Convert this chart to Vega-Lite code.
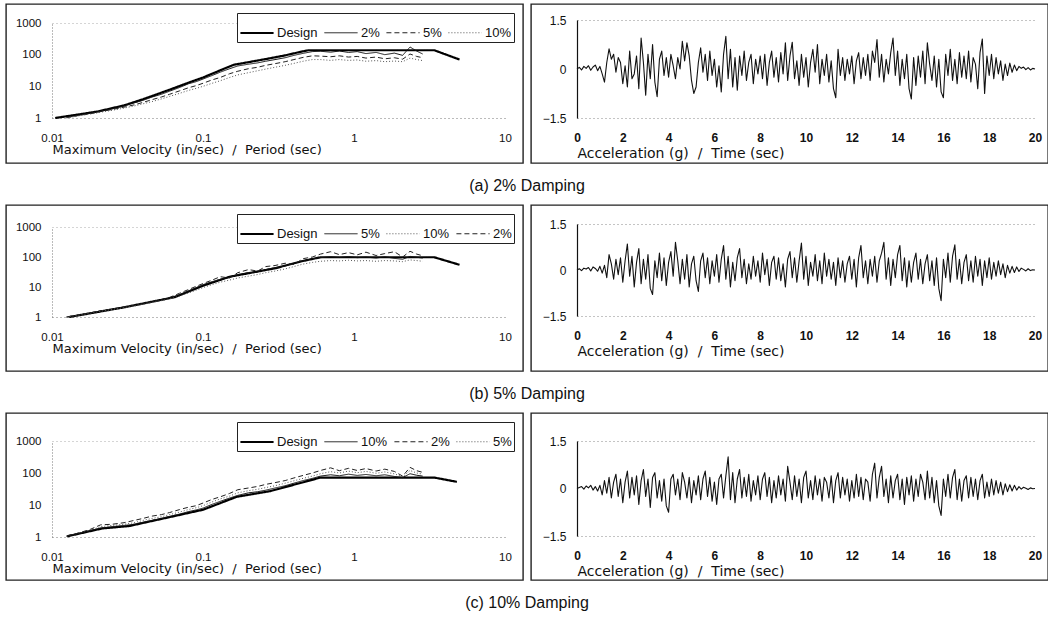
{
"$schema": "https://vega.github.io/schema/vega-lite/v6.json",
"padding": {"left": 5, "top": 3, "right": 0, "bottom": 0},
"background": "white",
"config": {
 "view": {"stroke": "#222", "strokeWidth": 1.4},
 "axis": {"labelFont": "Liberation Sans", "titleFont": "DejaVu Sans", "labelColor": "#111", "titleColor": "#111", "titleFontWeight": "normal", "titleFontSize": 13, "labelFontSize": 11.5, "labelOverlap": false, "labelBound": false},
 "legend": {"orient": "top-right", "offset": 9, "direction": "horizontal", "columns": 4, "strokeColor": "#222", "fillColor": "#fff", "padding": 2, "symbolType": "stroke", "symbolSize": 1100, "labelFont": "Liberation Sans", "labelFontSize": 13, "labelColor": "#111", "columnPadding": 5, "labelOffset": 2, "labelLimit": 0},
 "title": {"font": "Liberation Sans", "fontSize": 16, "fontWeight": "normal", "color": "#111", "orient": "bottom", "anchor": "middle", "offset": 14},
 "line": {"strokeJoin": "round"}
},
"datasets": {
 "s1": [
  {"T":0.0105,"Design":1},{"T":0.02,"Design":1.6},{"T":0.03,"Design":2.5},{"T":0.04,"Design":3.9},{"T":0.06,"Design":7.8},{"T":0.08,"Design":13},{"T":0.1,"Design":19},{"T":0.13,"Design":32},{"T":0.16,"Design":48},{"T":0.2,"Design":58},{"T":0.27,"Design":75},{"T":0.35,"Design":95},{"T":0.45,"Design":125},{"T":0.5,"Design":138},{"T":3.4,"Design":138},{"T":5,"Design":70},
  {"T":0.0125,"2%":1.05,"5%":1.03,"10%":1.0},
  {"T":0.015,"2%":1.22,"5%":1.2,"10%":1.17},
  {"T":0.018,"2%":1.42,"5%":1.38,"10%":1.33},
  {"T":0.021,"2%":1.65,"5%":1.6,"10%":1.52},
  {"T":0.025,"2%":1.95,"5%":1.85,"10%":1.75},
  {"T":0.03,"2%":2.4,"5%":2.2,"10%":2.05},
  {"T":0.035,"2%":3.0,"5%":2.6,"10%":2.4},
  {"T":0.04,"2%":3.6,"5%":3.1,"10%":2.8},
  {"T":0.046,"2%":4.6,"5%":3.8,"10%":3.3},
  {"T":0.053,"2%":5.6,"5%":4.6,"10%":4.0},
  {"T":0.06,"2%":7.0,"5%":5.6,"10%":4.8},
  {"T":0.07,"2%":9.2,"5%":7.2,"10%":6.0},
  {"T":0.08,"2%":12,"5%":9.0,"10%":7.4},
  {"T":0.09,"2%":14,"5%":10.5,"10%":8.6},
  {"T":0.1,"2%":17,"5%":12.5,"10%":10},
  {"T":0.115,"2%":22,"5%":16,"10%":12.5},
  {"T":0.13,"2%":28,"5%":19,"10%":15},
  {"T":0.15,"2%":36,"5%":25,"10%":19},
  {"T":0.17,"2%":44,"5%":30,"10%":23},
  {"T":0.2,"2%":50,"5%":36,"10%":27},
  {"T":0.23,"2%":55,"5%":40,"10%":31},
  {"T":0.26,"2%":62,"5%":46,"10%":35},
  {"T":0.3,"2%":70,"5%":52,"10%":40},
  {"T":0.35,"2%":80,"5%":60,"10%":46},
  {"T":0.4,"2%":95,"5%":70,"10%":53},
  {"T":0.46,"2%":110,"5%":82,"10%":62},
  {"T":0.53,"2%":125,"5%":92,"10%":70},
  {"T":0.6,"2%":128,"5%":90,"10%":70},
  {"T":0.7,"2%":120,"5%":86,"10%":66},
  {"T":0.8,"2%":130,"5%":92,"10%":70},
  {"T":0.92,"2%":118,"5%":84,"10%":66},
  {"T":1.05,"2%":125,"5%":88,"10%":68},
  {"T":1.2,"2%":108,"5%":78,"10%":62},
  {"T":1.4,"2%":118,"5%":84,"10%":65},
  {"T":1.6,"2%":100,"5%":74,"10%":60},
  {"T":1.85,"2%":112,"5%":80,"10%":63},
  {"T":2.1,"2%":95,"5%":72,"10%":60},
  {"T":2.35,"2%":175,"5%":105,"10%":78},
  {"T":2.6,"2%":130,"5%":88,"10%":70},
  {"T":2.85,"2%":105,"5%":80,"10%":65}
 ],
 "s2": [
  {"T":0.013,"Design":1},{"T":0.03,"Design":2.1},{"T":0.065,"Design":4.6},{"T":0.1,"Design":11},{"T":0.15,"Design":22},{"T":0.3,"Design":42},{"T":0.45,"Design":72},{"T":0.6,"Design":98},{"T":3.4,"Design":98},{"T":5,"Design":55},
  {"T":0.0125,"5%":1.0,"10%":1.0,"2%":1.0},
  {"T":0.015,"5%":1.15,"10%":1.14,"2%":1.16},
  {"T":0.018,"5%":1.36,"10%":1.34,"2%":1.38},
  {"T":0.021,"5%":1.58,"10%":1.55,"2%":1.6},
  {"T":0.025,"5%":1.82,"10%":1.78,"2%":1.85},
  {"T":0.03,"5%":2.1,"10%":2.05,"2%":2.15},
  {"T":0.035,"5%":2.4,"10%":2.33,"2%":2.45},
  {"T":0.04,"5%":2.75,"10%":2.65,"2%":2.8},
  {"T":0.046,"5%":3.2,"10%":3.05,"2%":3.3},
  {"T":0.053,"5%":3.7,"10%":3.5,"2%":3.8},
  {"T":0.06,"5%":4.3,"10%":4.0,"2%":4.5},
  {"T":0.07,"5%":5.6,"10%":5.0,"2%":6.2},
  {"T":0.08,"5%":7.4,"10%":6.3,"2%":8.2},
  {"T":0.09,"5%":9.5,"10%":7.8,"2%":10.5},
  {"T":0.1,"5%":12,"10%":9.5,"2%":13},
  {"T":0.115,"5%":15,"10%":12,"2%":17},
  {"T":0.13,"5%":18,"10%":14.5,"2%":22},
  {"T":0.15,"5%":21,"10%":17,"2%":20},
  {"T":0.17,"5%":26,"10%":20,"2%":30},
  {"T":0.2,"5%":30,"10%":23,"2%":38},
  {"T":0.23,"5%":32,"10%":26,"2%":34},
  {"T":0.26,"5%":38,"10%":30,"2%":48},
  {"T":0.3,"5%":44,"10%":34,"2%":52},
  {"T":0.35,"5%":50,"10%":40,"2%":62},
  {"T":0.4,"5%":62,"10%":48,"2%":56},
  {"T":0.46,"5%":75,"10%":58,"2%":88},
  {"T":0.53,"5%":88,"10%":66,"2%":100},
  {"T":0.6,"5%":95,"10%":72,"2%":125},
  {"T":0.7,"5%":102,"10%":76,"2%":150},
  {"T":0.8,"5%":96,"10%":74,"2%":120},
  {"T":0.92,"5%":104,"10%":78,"2%":140},
  {"T":1.05,"5%":95,"10%":74,"2%":118},
  {"T":1.2,"5%":100,"10%":76,"2%":145},
  {"T":1.4,"5%":92,"10%":72,"2%":112},
  {"T":1.6,"5%":102,"10%":76,"2%":130},
  {"T":1.85,"5%":90,"10%":74,"2%":150},
  {"T":2.1,"5%":84,"10%":70,"2%":100},
  {"T":2.35,"5%":105,"10%":80,"2%":155},
  {"T":2.6,"5%":98,"10%":76,"2%":125},
  {"T":2.85,"5%":92,"10%":72,"2%":110}
 ],
 "s3": [
  {"T":0.0126,"Design":1.05},{"T":0.0215,"Design":1.85},{"T":0.0324,"Design":2.2},{"T":0.1,"Design":7.1},{"T":0.167,"Design":18},{"T":0.278,"Design":27},{"T":0.6,"Design":72},{"T":3.4,"Design":72},{"T":4.8,"Design":53},
  {"T":0.0125,"10%":1.06,"2%":1.08,"5%":1.07},
  {"T":0.015,"10%":1.28,"2%":1.33,"5%":1.3},
  {"T":0.018,"10%":1.6,"2%":1.75,"5%":1.65},
  {"T":0.021,"10%":1.9,"2%":2.4,"5%":2.1},
  {"T":0.025,"10%":2.1,"2%":2.5,"5%":2.3},
  {"T":0.03,"10%":2.3,"2%":2.8,"5%":2.5},
  {"T":0.035,"10%":2.5,"2%":3.3,"5%":2.8},
  {"T":0.04,"10%":2.9,"2%":3.8,"5%":3.3},
  {"T":0.046,"10%":3.3,"2%":4.5,"5%":3.8},
  {"T":0.053,"10%":3.8,"2%":5.0,"5%":4.3},
  {"T":0.06,"10%":4.4,"2%":5.8,"5%":5.0},
  {"T":0.07,"10%":5.2,"2%":7.2,"5%":6.0},
  {"T":0.08,"10%":6.2,"2%":8.5,"5%":7.2},
  {"T":0.09,"10%":7.0,"2%":9.5,"5%":8.2},
  {"T":0.1,"10%":8.0,"2%":11.5,"5%":9.5},
  {"T":0.115,"10%":10.5,"2%":15,"5%":12.5},
  {"T":0.13,"10%":13,"2%":18,"5%":15.5},
  {"T":0.15,"10%":16.5,"2%":23,"5%":19},
  {"T":0.17,"10%":20,"2%":30,"5%":24},
  {"T":0.2,"10%":24,"2%":34,"5%":28},
  {"T":0.23,"10%":26,"2%":38,"5%":31},
  {"T":0.26,"10%":29,"2%":44,"5%":35},
  {"T":0.3,"10%":34,"2%":50,"5%":40},
  {"T":0.35,"10%":40,"2%":58,"5%":48},
  {"T":0.4,"10%":48,"2%":70,"5%":57},
  {"T":0.46,"10%":58,"2%":84,"5%":68},
  {"T":0.53,"10%":68,"2%":100,"5%":80},
  {"T":0.6,"10%":80,"2%":120,"5%":95},
  {"T":0.7,"10%":88,"2%":145,"5%":110},
  {"T":0.8,"10%":82,"2%":118,"5%":100},
  {"T":0.92,"10%":92,"2%":140,"5%":115},
  {"T":1.05,"10%":84,"2%":120,"5%":102},
  {"T":1.2,"10%":90,"2%":138,"5%":112},
  {"T":1.4,"10%":82,"2%":115,"5%":98},
  {"T":1.6,"10%":88,"2%":132,"5%":108},
  {"T":1.85,"10%":78,"2%":112,"5%":94},
  {"T":2.1,"10%":72,"2%":80,"5%":76},
  {"T":2.35,"10%":95,"2%":150,"5%":120},
  {"T":2.6,"10%":85,"2%":118,"5%":100},
  {"T":2.85,"10%":80,"2%":105,"5%":92}
 ],
 "acc": [
{"t":0,"a":0,"b":0,"c":0},{"t":0.1,"a":0.05,"b":0.04,"c":0.03},{"t":0.2,"a":-0.03,"b":-0.02,"c":0.06},{"t":0.3,"a":0.08,"b":0.06,"c":-0.02},{"t":0.4,"a":0.02,"b":0.03,"c":0.08},{"t":0.5,"a":0.1,"b":0.08,"c":0.02},{"t":0.6,"a":-0.04,"b":-0.03,"c":0.1},{"t":0.7,"a":0.06,"b":0.1,"c":-0.05},{"t":0.8,"a":0.12,"b":0.05,"c":0.06},{"t":0.9,"a":-0.05,"b":-0.04,"c":-0.08},
{"t":1,"a":0.08,"b":0.12,"c":0.1},{"t":1.1,"a":-0.15,"b":-0.1,"c":-0.2},{"t":1.2,"a":-0.4,"b":0.15,"c":0.25},{"t":1.3,"a":0.2,"b":-0.25,"c":-0.15},{"t":1.4,"a":0.62,"b":0.5,"c":0.35},{"t":1.5,"a":0.3,"b":0.2,"c":-0.3},{"t":1.6,"a":0.45,"b":-0.3,"c":0.2},{"t":1.7,"a":-0.1,"b":0.35,"c":0.45},{"t":1.8,"a":0.35,"b":-0.15,"c":-0.25},{"t":1.9,"a":0.2,"b":0.4,"c":0.3},
{"t":2,"a":-0.45,"b":-0.4,"c":-0.45},{"t":2.1,"a":0.1,"b":0.3,"c":0.2},{"t":2.2,"a":-0.55,"b":0.85,"c":0.55},{"t":2.3,"a":0.55,"b":-0.2,"c":-0.3},{"t":2.4,"a":-0.3,"b":0.45,"c":0.35},{"t":2.5,"a":-0.15,"b":-0.55,"c":-0.2},{"t":2.6,"a":0.4,"b":0.25,"c":0.4},{"t":2.7,"a":-0.6,"b":0.7,"c":-0.5},{"t":2.8,"a":0.95,"b":-0.45,"c":0.25},{"t":2.9,"a":0.2,"b":0.35,"c":0.6},
{"t":3,"a":-0.8,"b":-0.3,"c":-0.25},{"t":3.1,"a":0.45,"b":0.5,"c":0.3},{"t":3.2,"a":-0.3,"b":-0.6,"c":-0.6},{"t":3.3,"a":0.75,"b":-0.8,"c":0.35},{"t":3.4,"a":-0.4,"b":0.3,"c":0.5},{"t":3.5,"a":-0.85,"b":-0.25,"c":-0.3},{"t":3.6,"a":0.3,"b":0.55,"c":0.25},{"t":3.7,"a":0.55,"b":-0.35,"c":-0.4},{"t":3.8,"a":-0.2,"b":0.4,"c":0.3},{"t":3.9,"a":0.35,"b":-0.5,"c":-0.55},
{"t":4,"a":-0.25,"b":0.25,"c":-0.75},{"t":4.1,"a":0.45,"b":0.6,"c":0.3},{"t":4.2,"a":0.1,"b":-0.2,"c":0.45},{"t":4.3,"a":-0.3,"b":0.9,"c":-0.2},{"t":4.4,"a":0.35,"b":0.3,"c":0.3},{"t":4.5,"a":0,"b":-0.45,"c":-0.35},{"t":4.6,"a":0.85,"b":0.35,"c":0.5},{"t":4.7,"a":0.25,"b":-0.3,"c":0.2},{"t":4.8,"a":0.8,"b":0.5,"c":-0.3},{"t":4.9,"a":0.4,"b":-0.55,"c":0.35},
{"t":5,"a":-0.35,"b":0.2,"c":-0.45},{"t":5.1,"a":-0.75,"b":0.45,"c":0.25},{"t":5.2,"a":-0.55,"b":-0.35,"c":-0.2},{"t":5.3,"a":0.2,"b":-0.7,"c":0.4},{"t":5.4,"a":0.65,"b":0.3,"c":-0.35},{"t":5.5,"a":-0.1,"b":0.55,"c":0.3},{"t":5.6,"a":0.45,"b":-0.25,"c":0.55},{"t":5.7,"a":-0.35,"b":0.4,"c":-0.25},{"t":5.8,"a":0.55,"b":-0.45,"c":0.35},{"t":5.9,"a":-0.2,"b":0.3,"c":-0.4},
{"t":6,"a":0.3,"b":-0.2,"c":0.2},{"t":6.1,"a":-0.55,"b":0.5,"c":-0.5},{"t":6.2,"a":0.1,"b":-0.4,"c":0.3},{"t":6.3,"a":-0.7,"b":0.35,"c":0.45},{"t":6.4,"a":0.45,"b":0.8,"c":-0.3},{"t":6.5,"a":1,"b":-0.3,"c":0.4},{"t":6.6,"a":-0.3,"b":0.45,"c":1},{"t":6.7,"a":0.6,"b":-0.55,"c":-0.35},{"t":6.8,"a":-0.55,"b":0.25,"c":0.5},{"t":6.9,"a":0.35,"b":-0.35,"c":-0.45},
{"t":7,"a":-0.65,"b":0.4,"c":0.3},{"t":7.1,"a":0.4,"b":0.7,"c":0.6},{"t":7.2,"a":-0.2,"b":-0.25,"c":-0.3},{"t":7.3,"a":0.55,"b":0.35,"c":0.35},{"t":7.4,"a":-0.35,"b":-0.45,"c":-0.25},{"t":7.5,"a":0.2,"b":0.2,"c":0.45},{"t":7.6,"a":0.45,"b":-0.3,"c":-0.4},{"t":7.7,"a":-0.45,"b":0.45,"c":0.25},{"t":7.8,"a":0.3,"b":-0.2,"c":-0.2},{"t":7.9,"a":-0.15,"b":0.3,"c":0.4},
{"t":8,"a":0.4,"b":-0.4,"c":-0.35},{"t":8.1,"a":-0.3,"b":0.55,"c":0.3},{"t":8.2,"a":0.45,"b":-0.15,"c":0.5},{"t":8.3,"a":-0.5,"b":0.35,"c":-0.25},{"t":8.4,"a":0.2,"b":-0.5,"c":0.35},{"t":8.5,"a":0.55,"b":0.25,"c":-0.45},{"t":8.6,"a":-0.25,"b":0.45,"c":0.25},{"t":8.7,"a":0.35,"b":-0.3,"c":-0.3},{"t":8.8,"a":-0.4,"b":0.4,"c":0.4},{"t":8.9,"a":0.5,"b":-0.35,"c":-0.2},
{"t":9,"a":-0.15,"b":0.2,"c":0.3},{"t":9.1,"a":0.8,"b":-0.55,"c":-0.4},{"t":9.2,"a":-0.35,"b":0.35,"c":0.7},{"t":9.3,"a":0.4,"b":0.6,"c":0.2},{"t":9.4,"a":0.82,"b":-0.25,"c":-0.35},{"t":9.5,"a":-0.3,"b":0.4,"c":0.4},{"t":9.6,"a":0.25,"b":-0.4,"c":-0.25},{"t":9.7,"a":-0.5,"b":0.3,"c":0.3},{"t":9.8,"a":0.45,"b":0.88,"c":-0.45},{"t":9.9,"a":-0.25,"b":-0.3,"c":0.35},
{"t":10,"a":0.35,"b":0.45,"c":0.55},{"t":10.1,"a":-0.55,"b":-0.5,"c":-0.3},{"t":10.2,"a":0.2,"b":0.25,"c":0.25},{"t":10.3,"a":0.6,"b":-0.2,"c":-0.35},{"t":10.4,"a":-0.1,"b":0.5,"c":0.4},{"t":10.5,"a":0.75,"b":-0.35,"c":-0.2},{"t":10.6,"a":-0.45,"b":0.3,"c":0.3},{"t":10.7,"a":0.3,"b":-0.45,"c":-0.4},{"t":10.8,"a":-0.2,"b":0.55,"c":0.35},{"t":10.9,"a":0.45,"b":-0.2,"c":0.2},
{"t":11,"a":-0.4,"b":0.35,"c":-0.3},{"t":11.1,"a":0.25,"b":-0.3,"c":0.4},{"t":11.2,"a":-0.6,"b":0.25,"c":-0.45},{"t":11.3,"a":-0.88,"b":-0.5,"c":0.25},{"t":11.4,"a":0.6,"b":0.4,"c":0.5},{"t":11.5,"a":-0.2,"b":-0.25,"c":-0.3},{"t":11.6,"a":0.35,"b":0.3,"c":0.35},{"t":11.7,"a":-0.35,"b":-0.4,"c":-0.2},{"t":11.8,"a":0.3,"b":0.2,"c":0.3},{"t":11.9,"a":-0.15,"b":0.45,"c":-0.4},
{"t":12,"a":0.4,"b":-0.3,"c":0.25},{"t":12.1,"a":-0.45,"b":0.35,"c":-0.3},{"t":12.2,"a":0.25,"b":-0.55,"c":0.45},{"t":12.3,"a":0.5,"b":0.4,"c":-0.25},{"t":12.4,"a":-0.3,"b":0.8,"c":0.35},{"t":12.5,"a":0.35,"b":-0.25,"c":-0.35},{"t":12.6,"a":-0.2,"b":0.3,"c":0.3},{"t":12.7,"a":0.45,"b":-0.45,"c":0.2},{"t":12.8,"a":-0.35,"b":0.35,"c":-0.4},{"t":12.9,"a":0.55,"b":-0.2,"c":0.45},
{"t":13,"a":0.2,"b":0.45,"c":0.8},{"t":13.1,"a":0.9,"b":-0.4,"c":-0.3},{"t":13.2,"a":-0.25,"b":0.3,"c":0.35},{"t":13.3,"a":0.45,"b":0.55,"c":0.7},{"t":13.4,"a":-0.4,"b":0.9,"c":-0.25},{"t":13.5,"a":0.3,"b":-0.3,"c":0.3},{"t":13.6,"a":-0.15,"b":0.4,"c":-0.45},{"t":13.7,"a":0.5,"b":-0.5,"c":0.4},{"t":13.8,"a":0.95,"b":0.35,"c":-0.3},{"t":13.9,"a":-0.2,"b":-0.25,"c":0.25},
{"t":14,"a":0.55,"b":0.5,"c":0.45},{"t":14.1,"a":-0.5,"b":0.8,"c":-0.35},{"t":14.2,"a":0.3,"b":-0.35,"c":0.3},{"t":14.3,"a":-0.3,"b":0.4,"c":-0.5},{"t":14.4,"a":0.45,"b":-0.55,"c":0.35},{"t":14.5,"a":-0.6,"b":0.3,"c":-0.2},{"t":14.6,"a":-0.92,"b":-0.4,"c":0.4},{"t":14.7,"a":0.35,"b":0.25,"c":-0.4},{"t":14.8,"a":-0.5,"b":0.55,"c":0.3},{"t":14.9,"a":0.4,"b":-0.3,"c":-0.25},
{"t":15,"a":-0.25,"b":0.35,"c":0.45},{"t":15.1,"a":0.55,"b":-0.45,"c":0.2},{"t":15.2,"a":-0.45,"b":0.2,"c":-0.35},{"t":15.3,"a":0.8,"b":0.5,"c":0.55},{"t":15.4,"a":0.15,"b":-0.35,"c":-0.3},{"t":15.5,"a":-0.35,"b":0.3,"c":0.35},{"t":15.6,"a":0.4,"b":-0.5,"c":-0.45},{"t":15.7,"a":-0.55,"b":0.4,"c":0.25},{"t":15.8,"a":0.3,"b":-0.6,"c":-0.55},{"t":15.9,"a":-0.7,"b":-1,"c":-0.85},
{"t":16,"a":-0.88,"b":0.35,"c":0.3},{"t":16.1,"a":0.45,"b":-0.25,"c":-0.25},{"t":16.2,"a":-0.2,"b":0.55,"c":0.45},{"t":16.3,"a":0.6,"b":-0.4,"c":-0.3},{"t":16.4,"a":-0.35,"b":0.45,"c":0.35},{"t":16.5,"a":0.3,"b":0.82,"c":0.6},{"t":16.6,"a":-0.45,"b":-0.3,"c":-0.35},{"t":16.7,"a":0.5,"b":0.35,"c":0.3},{"t":16.8,"a":-0.25,"b":-0.45,"c":-0.4},{"t":16.9,"a":0.4,"b":0.25,"c":0.25},
{"t":17,"a":-0.3,"b":0.5,"c":0.4},{"t":17.1,"a":0.55,"b":-0.35,"c":-0.3},{"t":17.2,"a":-0.4,"b":0.3,"c":0.35},{"t":17.3,"a":0.35,"b":-0.4,"c":-0.25},{"t":17.4,"a":0.15,"b":0.45,"c":0.3},{"t":17.5,"a":-0.6,"b":-0.2,"c":-0.35},{"t":17.6,"a":0.5,"b":0.35,"c":0.25},{"t":17.7,"a":0.92,"b":-0.5,"c":0.45},{"t":17.8,"a":-0.75,"b":0.3,"c":-0.3},{"t":17.9,"a":0.4,"b":-0.25,"c":0.2},
{"t":18,"a":-0.2,"b":0.4,"c":-0.25},{"t":18.1,"a":0.45,"b":-0.3,"c":0.3},{"t":18.2,"a":-0.3,"b":0.25,"c":-0.2},{"t":18.3,"a":0.35,"b":-0.2,"c":0.25},{"t":18.4,"a":-0.15,"b":0.3,"c":-0.15},{"t":18.5,"a":0.25,"b":-0.15,"c":0.2},{"t":18.6,"a":-0.35,"b":0.2,"c":-0.2},{"t":18.7,"a":0.15,"b":-0.25,"c":0.15},{"t":18.8,"a":-0.2,"b":0.15,"c":-0.1},{"t":18.9,"a":0.18,"b":-0.1,"c":0.12},
{"t":19,"a":-0.1,"b":0.12,"c":-0.08},{"t":19.1,"a":0.12,"b":-0.08,"c":0.1},{"t":19.2,"a":-0.05,"b":0.1,"c":-0.05},{"t":19.3,"a":0.08,"b":-0.05,"c":0.06},{"t":19.4,"a":0.02,"b":0.06,"c":-0.02},{"t":19.5,"a":0.06,"b":0.02,"c":0.04},{"t":19.6,"a":-0.02,"b":-0.03,"c":0.01},{"t":19.7,"a":0.04,"b":0.04,"c":-0.03},{"t":19.8,"a":-0.03,"b":-0.02,"c":0.02},{"t":19.9,"a":0.02,"b":0.01,"c":-0.01},
{"t":20,"a":0,"b":0,"c":0}
 ]
},
"spacing": 10,
"resolve": {"scale": {"strokeDash": "independent", "strokeWidth": "independent", "color": "independent"}, "legend": {"strokeDash": "independent", "strokeWidth": "independent", "color": "independent"}},
"vconcat": [
 {"title": {"text": "(a) 2% Damping"}, "spacing": 6,
  "resolve": {"scale": {"strokeDash": "independent", "strokeWidth": "independent", "color": "independent"}, "legend": {"strokeDash": "independent", "strokeWidth": "independent", "color": "independent"}},
  "hconcat": [
  {"width": 517, "height": 159, "data": {"name": "s1"},
   "transform": [{"fold": ["Design","2%","5%","10%"], "as": ["key","v"]}, {"filter": "isValid(datum.v)"}],
   "mark": {"type": "line"},
   "encoding": {
    "x": {"field": "T", "type": "quantitative", "scale": {"type": "log", "domain": [0.01, 10], "range": [46, 499], "nice": false},
      "axis": {"orient": "bottom", "offset": -45, "values": [0.01,0.1,1,10], "format": "~g", "labelFlush": false, "ticks": false, "tickSize": 0, "labelPadding": 14, "labelFontSize": 11.5, "domainDash": [1,3], "domainColor": "#777", "grid": false, "title": "Maximum Velocity (in/sec)\u00a0 /\u00a0 Period (sec)", "titleAnchor": "start", "titleAlign": "left", "titlePadding": 0}},
    "y": {"field": "v", "type": "quantitative", "scale": {"type": "log", "domain": [1, 1000], "range": [114, 19], "nice": false},
      "axis": {"orient": "left", "offset": -46, "values": [1,10,100,1000], "format": "d", "ticks": false, "tickSize": 0, "labelPadding": 11, "domainDash": [1,2], "domainColor": "#777", "grid": true, "gridDash": [1,3], "gridColor": {"condition": {"test": "datum.value === 1000", "value": "#aaa"}, "value": "transparent"}, "title": null}},
    "strokeDash": {"field": "key", "type": "nominal", "scale": {"domain": ["Design","2%","5%","10%"], "range": [[1,0],[1,0],[5,3],[1,2]]}, "legend": {"title": null}},
    "strokeWidth": {"field": "key", "type": "nominal", "scale": {"type": "ordinal", "domain": ["Design","2%","5%","10%"], "range": [2.2,1,1,1]}, "legend": {"title": null}},
    "color": {"field": "key", "type": "nominal", "scale": {"domain": ["Design","2%","5%","10%"], "range": ["#000","#111","#222","#555"]}, "legend": {"title": null}}
   }},
  {"width": 517, "height": 159, "data": {"name": "acc"},
   "mark": {"type": "line", "color": "#111", "strokeWidth": 1.1},
   "encoding": {
    "x": {"field": "t", "type": "quantitative", "scale": {"domain": [0, 20], "range": [46, 504], "nice": false, "zero": false},
      "axis": {"orient": "bottom", "offset": -45, "values": [0,2,4,6,8,10,12,14,16,18,20], "format": "d", "labelFlush": false, "ticks": false, "tickSize": 0, "labelPadding": 14, "labelFontSize": 12, "labelFontWeight": "bold", "domain": false, "grid": false, "title": "Acceleration (g)\u00a0 /\u00a0 Time (sec)", "titleFontSize": 14, "titleAnchor": "start", "titleAlign": "left", "titlePadding": 3}},
    "y": {"field": "a", "type": "quantitative", "scale": {"domain": [-1.5, 1.5], "range": [114, 16], "nice": false, "zero": false},
      "axis": {"orient": "left", "offset": -46, "values": [-1.5,0,1.5], "format": ".1~f", "ticks": false, "tickSize": 0, "labelPadding": 11, "labelFontSize": 12, "domain": true, "domainColor": "#111", "domainWidth": 1.2, "grid": true, "gridDash": [1,3], "gridColor": {"condition": {"test": "datum.value === 0", "value": "transparent"}, "value": "#888"}, "title": null}}
   }}
 ]},
 {"title": {"text": "(b) 5% Damping"}, "spacing": 6,
  "resolve": {"scale": {"strokeDash": "independent", "strokeWidth": "independent", "color": "independent"}, "legend": {"strokeDash": "independent", "strokeWidth": "independent", "color": "independent"}},
  "hconcat": [
  {"width": 517, "height": 166, "data": {"name": "s2"},
   "transform": [{"fold": ["Design","2%","5%","10%"], "as": ["key","v"]}, {"filter": "isValid(datum.v)"}],
   "mark": {"type": "line"},
   "encoding": {
    "x": {"field": "T", "type": "quantitative", "scale": {"type": "log", "domain": [0.01, 10], "range": [46, 499], "nice": false},
      "axis": {"orient": "bottom", "offset": -54, "values": [0.01,0.1,1,10], "format": "~g", "labelFlush": false, "ticks": false, "tickSize": 0, "labelPadding": 14, "labelFontSize": 11.5, "domainDash": [1,3], "domainColor": "#777", "grid": false, "title": "Maximum Velocity (in/sec)\u00a0 /\u00a0 Period (sec)", "titleAnchor": "start", "titleAlign": "left", "titlePadding": 0}},
    "y": {"field": "v", "type": "quantitative", "scale": {"type": "log", "domain": [1, 1000], "range": [112, 22], "nice": false},
      "axis": {"orient": "left", "offset": -46, "values": [1,10,100,1000], "format": "d", "ticks": false, "tickSize": 0, "labelPadding": 11, "domainDash": [1,2], "domainColor": "#777", "grid": true, "gridDash": [1,3], "gridColor": {"condition": {"test": "datum.value === 1000", "value": "#aaa"}, "value": "transparent"}, "title": null}},
    "strokeDash": {"field": "key", "type": "nominal", "scale": {"domain": ["Design","5%","10%","2%"], "range": [[1,0],[1,0],[1,2],[5,3]]}, "legend": {"title": null}},
    "strokeWidth": {"field": "key", "type": "nominal", "scale": {"type": "ordinal", "domain": ["Design","5%","10%","2%"], "range": [2.2,1,1,1]}, "legend": {"title": null}},
    "color": {"field": "key", "type": "nominal", "scale": {"domain": ["Design","5%","10%","2%"], "range": ["#000","#111","#555","#222"]}, "legend": {"title": null}}
   }},
  {"width": 517, "height": 166, "data": {"name": "acc"},
   "mark": {"type": "line", "color": "#111", "strokeWidth": 1.1},
   "encoding": {
    "x": {"field": "t", "type": "quantitative", "scale": {"domain": [0, 20], "range": [46, 504], "nice": false, "zero": false},
      "axis": {"orient": "bottom", "offset": -55, "values": [0,2,4,6,8,10,12,14,16,18,20], "format": "d", "labelFlush": false, "ticks": false, "tickSize": 0, "labelPadding": 14, "labelFontSize": 12, "labelFontWeight": "bold", "domain": false, "grid": false, "title": "Acceleration (g)\u00a0 /\u00a0 Time (sec)", "titleFontSize": 14, "titleAnchor": "start", "titleAlign": "left", "titlePadding": 3}},
    "y": {"field": "b", "type": "quantitative", "scale": {"domain": [-1.5, 1.5], "range": [111, 19], "nice": false, "zero": false},
      "axis": {"orient": "left", "offset": -46, "values": [-1.5,0,1.5], "format": ".1~f", "ticks": false, "tickSize": 0, "labelPadding": 11, "labelFontSize": 12, "domain": true, "domainColor": "#111", "domainWidth": 1.2, "grid": true, "gridDash": [1,3], "gridColor": {"condition": {"test": "datum.value === 0", "value": "transparent"}, "value": "#888"}, "title": null}}
   }}
 ]},
 {"title": {"text": "(c) 10% Damping"}, "spacing": 6,
  "resolve": {"scale": {"strokeDash": "independent", "strokeWidth": "independent", "color": "independent"}, "legend": {"strokeDash": "independent", "strokeWidth": "independent", "color": "independent"}},
  "hconcat": [
  {"width": 517, "height": 167, "data": {"name": "s3"},
   "transform": [{"fold": ["Design","2%","5%","10%"], "as": ["key","v"]}, {"filter": "isValid(datum.v)"}],
   "mark": {"type": "line"},
   "encoding": {
    "x": {"field": "T", "type": "quantitative", "scale": {"type": "log", "domain": [0.01, 10], "range": [46, 499], "nice": false},
      "axis": {"orient": "bottom", "offset": -43, "values": [0.01,0.1,1,10], "format": "~g", "labelFlush": false, "ticks": false, "tickSize": 0, "labelPadding": 14, "labelFontSize": 11.5, "domainDash": [1,3], "domainColor": "#777", "grid": false, "title": "Maximum Velocity (in/sec)\u00a0 /\u00a0 Period (sec)", "titleAnchor": "start", "titleAlign": "left", "titlePadding": 0}},
    "y": {"field": "v", "type": "quantitative", "scale": {"type": "log", "domain": [1, 1000], "range": [124, 28], "nice": false},
      "axis": {"orient": "left", "offset": -46, "values": [1,10,100,1000], "format": "d", "ticks": false, "tickSize": 0, "labelPadding": 11, "domainDash": [1,2], "domainColor": "#777", "grid": true, "gridDash": [1,3], "gridColor": {"condition": {"test": "datum.value === 1000", "value": "#aaa"}, "value": "transparent"}, "title": null}},
    "strokeDash": {"field": "key", "type": "nominal", "scale": {"domain": ["Design","10%","2%","5%"], "range": [[1,0],[1,0],[5,3],[1,2]]}, "legend": {"title": null}},
    "strokeWidth": {"field": "key", "type": "nominal", "scale": {"type": "ordinal", "domain": ["Design","10%","2%","5%"], "range": [2.2,1,1,1]}, "legend": {"title": null}},
    "color": {"field": "key", "type": "nominal", "scale": {"domain": ["Design","10%","2%","5%"], "range": ["#000","#111","#222","#555"]}, "legend": {"title": null}}
   }},
  {"width": 517, "height": 167, "data": {"name": "acc"},
   "mark": {"type": "line", "color": "#111", "strokeWidth": 1.1},
   "encoding": {
    "x": {"field": "t", "type": "quantitative", "scale": {"domain": [0, 20], "range": [46, 504], "nice": false, "zero": false},
      "axis": {"orient": "bottom", "offset": -44, "values": [0,2,4,6,8,10,12,14,16,18,20], "format": "d", "labelFlush": false, "ticks": false, "tickSize": 0, "labelPadding": 14, "labelFontSize": 12, "labelFontWeight": "bold", "domain": false, "grid": false, "title": "Acceleration (g)\u00a0 /\u00a0 Time (sec)", "titleFontSize": 14, "titleAnchor": "start", "titleAlign": "left", "titlePadding": 3}},
    "y": {"field": "c", "type": "quantitative", "scale": {"domain": [-1.5, 1.5], "range": [123, 28], "nice": false, "zero": false},
      "axis": {"orient": "left", "offset": -46, "values": [-1.5,0,1.5], "format": ".1~f", "ticks": false, "tickSize": 0, "labelPadding": 11, "labelFontSize": 12, "domain": true, "domainColor": "#111", "domainWidth": 1.2, "grid": true, "gridDash": [1,3], "gridColor": {"condition": {"test": "datum.value === 0", "value": "transparent"}, "value": "#888"}, "title": null}}
   }}
 ]}
]
}
